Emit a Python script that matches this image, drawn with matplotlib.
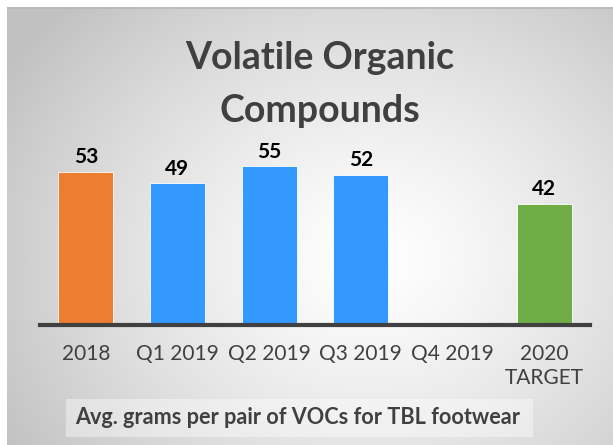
import numpy as np
import matplotlib
matplotlib.use("Agg")
import matplotlib.pyplot as plt
from matplotlib.patches import Rectangle

categories = ["2018", "Q1 2019", "Q2 2019", "Q3 2019", "Q4 2019", "2020\nTARGET"]
values = [53, 49, 55, 52, None, 42]
colors = ["#ED7D31", "#3399FF", "#3399FF", "#3399FF", "#3399FF", "#70AD47"]
title_lines = ["Volatile Organic", "Compounds"]
footer = "Avg. grams per pair of VOCs for TBL footwear"

W, H = 613, 445
fig = plt.figure(figsize=(W / 100, H / 100), dpi=100)
fig.patch.set_facecolor("white")

# background radial gradient panel
bg = fig.add_axes([7 / W, 0, (W - 7) / W, (H - 7) / H])
bg.set_axis_off()
yy, xx = np.mgrid[0:400, 0:600]
cx, cy = 360, 230
r = np.sqrt(((xx - cx) / 420.0) ** 2 + ((yy - cy) / 330.0) ** 2)
r = np.clip(r, 0, 1)
g = 1.0 - (1.0 - 0.76) * r ** 1.3
img = np.dstack([g, g, g])
bg.imshow(img, aspect="auto", extent=[0, 1, 0, 1], origin="upper")
bg.set_xlim(0, 1)
bg.set_ylim(0, 1)
bg.plot([0, 1], [0.998, 0.998], color="#b8b8b8", lw=1.2)

# footer box
fx0, fx1 = 66 / W, 533 / W
fy0, fy1 = (H - 437) / H, (H - 399) / H
fig.patches.append(Rectangle((fx0, fy0), fx1 - fx0, fy1 - fy0, transform=fig.transFigure,
                             facecolor="white", alpha=0.4, edgecolor="none", zorder=1))
fig.text(75 / W, (fy0 + fy1) / 2, footer, fontsize=15.6, fontweight="bold", color="#404040",
         family="Lato", ha="left", va="center", zorder=2)

# main axes
ax = fig.add_axes([40 / W, (H - 325) / H, 550 / W, 173.4 / H])
ax.set_facecolor("none")
x = np.arange(len(categories))
for i, v in enumerate(values):
    if v is None:
        continue
    ax.bar(x[i], v, width=0.6, color=colors[i], edgecolor="white", linewidth=0.6, zorder=2)
    ax.text(x[i], v + 1.5, str(v), ha="center", va="bottom", fontsize=15,
            fontweight="bold", color="black", family="Lato")
ax.set_xlim(-0.5, len(categories) - 0.5)
ax.set_ylim(0, 60)
for s in ["top", "right", "left"]:
    ax.spines[s].set_visible(False)
ax.spines["bottom"].set_color("#404040")
ax.spines["bottom"].set_linewidth(3)
ax.spines["bottom"].set_zorder(3)
ax.set_yticks([])
ax.set_xticks(x)
ax.set_xticklabels(categories, fontsize=15, color="#404040", family="Lato", linespacing=1.2)
ax.tick_params(axis="x", length=0, pad=14)

for line, base in zip(title_lines, [69, 122]):
    fig.text(320 / W, (H - base) / H, line, ha="center", va="baseline", fontsize=27,
             fontweight="bold", color="#404040", family="Lato")

fig.savefig("out.png", dpi=100)
